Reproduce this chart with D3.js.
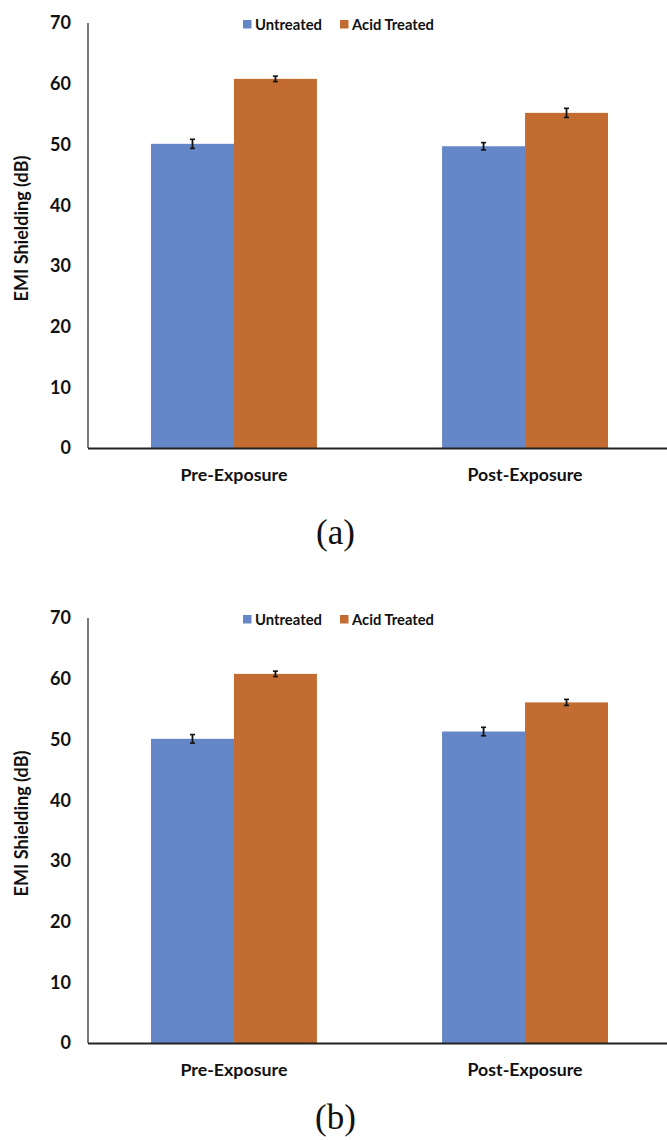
<!DOCTYPE html>
<html><head><meta charset="utf-8">
<script src="https://cdn.jsdelivr.net/npm/d3@7"></script>
<style>body{margin:0;background:#fff}svg{display:block}</style>
</head><body>
<svg id="c" width="667" height="1140"></svg>
<script>
const categories = ["Pre-Exposure", "Post-Exposure"];
const series = ["Untreated", "Acid Treated"];
const colors = ["#6586C7", "#C36C31"];
const yTicks = [0, 10, 20, 30, 40, 50, 60, 70];
// panel (a)
const aUntreated = [50.1, 49.7];
const aAcid = [60.8, 55.2];
const aUntreatedErr = [0.75, 0.6];
const aAcidErr = [0.45, 0.75];
// panel (b)
const bUntreated = [50.1, 51.3];
const bAcid = [60.8, 56.1];
const bUntreatedErr = [0.7, 0.7];
const bAcidErr = [0.45, 0.5];
const captions = ["(a)", "(b)"];

const svg = d3.select("#c");
const font = "Lato, 'Open Sans', sans-serif";

// scale a text's font-size so its rendered width matches a target width
function fit(sel, target, maxSize) {
  const node = sel.node();
  const w = node.getComputedTextLength();
  const fs = +sel.attr("font-size");
  if (w > 0) sel.attr("font-size", Math.min(maxSize, fs * target / w));
  return sel;
}

function panel(top, bottom, vals, errs, caption, capY) {
  const g = svg.append("g");
  const y = d3.scaleLinear().domain([0, 70]).range([bottom, top]);
  const x0 = d3.scaleBand().domain(categories).range([88, 671]).paddingInner(0.43).paddingOuter(0.2165);
  const x1 = d3.scaleBand().domain(series).range([0, x0.bandwidth()]);

  // y axis line
  g.append("line").attr("x1", 88).attr("x2", 88).attr("y1", y(70)).attr("y2", y(0))
    .attr("stroke", "#222").attr("stroke-width", 1.2);
  // tick labels
  g.selectAll(".yt").data(yTicks).enter().append("text")
    .attr("x", 71).attr("y", d => y(d)).attr("dy", "0.36em")
    .attr("text-anchor", "end").attr("font-family", font).attr("font-weight", 700)
    .attr("font-size", 18).attr("fill", "#111").text(d => d);
  // y label
  const yl = g.append("text").attr("transform", `translate(28,${(y(0)+y(70))/2 - 7}) rotate(-90)`)
    .attr("text-anchor", "middle").attr("font-family", font).attr("font-weight", 700)
    .attr("font-size", 16).attr("fill", "#111").text("EMI Shielding (dB)");
  fit(yl, 146, 19);

  // bars
  categories.forEach((c, i) => {
    series.forEach((s, j) => {
      const v = vals[j][i], e = errs[j][i];
      const bx = x0(c) + x1(s);
      g.append("rect").attr("x", bx).attr("y", y(v)).attr("width", x1.bandwidth())
        .attr("height", y(0) - y(v)).attr("fill", colors[j]);
      const cx = bx + x1.bandwidth() / 2;
      g.append("line").attr("x1", cx).attr("x2", cx).attr("y1", y(v + e)).attr("y2", y(v - e))
        .attr("stroke", "#111").attr("stroke-width", 1.8);
      [v + e, v - e].forEach(t => g.append("line").attr("x1", cx - 2.5).attr("x2", cx + 2.5)
        .attr("y1", y(t)).attr("y2", y(t)).attr("stroke", "#111").attr("stroke-width", 1.6));
    });
    const cl = g.append("text").attr("x", x0(c) + x0.bandwidth() / 2).attr("y", y(0) + 27)
      .attr("dy", "0.35em").attr("text-anchor", "middle").attr("font-family", font)
      .attr("font-weight", 700).attr("font-size", 16).attr("fill", "#111").text(c);
    fit(cl, c === "Post-Exposure" ? 115 : 107, 18);
  });

  // x axis line
  g.append("line").attr("x1", 88).attr("x2", 667).attr("y1", y(0) + 0.5).attr("y2", y(0) + 0.5)
    .attr("stroke", "#222").attr("stroke-width", 2);

  // legend
  const legX = [243, 340];
  const legW = [67, 82];
  series.forEach((s, j) => {
    g.append("rect").attr("x", legX[j]).attr("y", top - 3).attr("width", 8.5).attr("height", 8.5)
      .attr("fill", colors[j]);
    const lt = g.append("text").attr("x", legX[j] + 12).attr("y", top + 1.5).attr("dy", "0.35em")
      .attr("font-family", font).attr("font-weight", 700).attr("font-size", 14)
      .attr("fill", "#111").text(s);
    fit(lt, legW[j], 16);
  });

  svg.append("text").attr("x", 335.5).attr("y", capY).attr("text-anchor", "middle")
    .attr("font-family", "'Liberation Serif', 'Times New Roman', serif").attr("font-size", 35)
    .attr("fill", "#111").text(caption);
}

panel(23, 448, [aUntreated, aAcid], [aUntreatedErr, aAcidErr], captions[0], 544);
panel(618, 1043, [bUntreated, bAcid], [bUntreatedErr, bAcidErr], captions[1], 1129);
</script>
</body></html>
